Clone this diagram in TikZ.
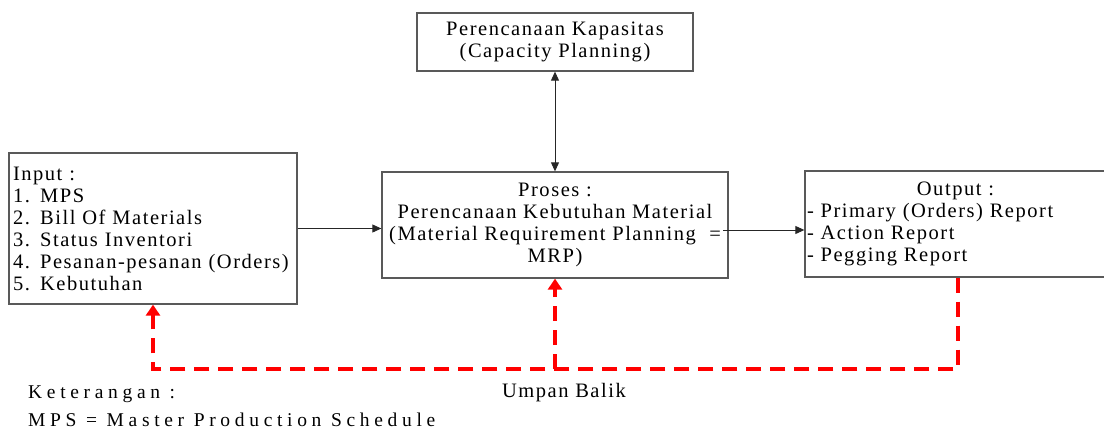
\documentclass[tikz,border=0pt]{standalone}
\usepackage{fontspec}
\setmainfont{Liberation Serif}
\newfontfamily\boxfont{Liberation Serif}[LetterSpace=7.5]
\newfontfamily\notefont{Liberation Serif}[LetterSpace=24]
\usetikzlibrary{arrows.meta}
\tikzset{
  box/.style={draw=black!65, line width=1.3pt, inner sep=0pt,
    font={\boxfont\fontsize{20.5}{22}\selectfont}},
  label/.style={inner sep=0pt},
  link/.style={draw=black!85, line width=0.9pt, -{Triangle[length=9pt,width=8pt]}},
  biarrow/.style={draw=black!85, line width=0.9pt,
    {Triangle[length=9pt,width=8pt]}-{Triangle[length=9pt,width=8pt]}},
  feedback/.style={draw=red, line width=3.2pt, dash pattern=on 15pt off 9pt,
    -{Triangle[length=11pt,width=14pt]}},
}
\begin{document}
\begin{tikzpicture}[x=1pt,y=-1pt]
\useasboundingbox (0,0) rectangle (1104,429);
\node[box, minimum width=276pt, minimum height=58pt, align=center] (cap) at (555,42)
  {Perencanaan Kapasitas\\(Capacity Planning)};
\node[box, text width=280pt, inner xsep=4pt, minimum height=151pt, align=left] (in) at (153,228.5)
  {Input :\\1. MPS\\2. Bill Of Materials\\3. Status Inventori\\4. Pesanan-pesanan (Orders)\\5. Kebutuhan};
\node[box, minimum width=346pt, minimum height=106pt, align=center] (proc) at (555,225)
  {Proses :\\Perencanaan Kebutuhan Material\\(Material Requirement Planning~~=\\MRP)};
\node[box, text width=297pt, inner xsep=2pt, minimum height=106pt, align=left] (out) at (955.5,224)
  {\makebox[297pt]{Output :}\\- Primary (Orders) Report\\- Action Report\\- Pegging Report};
\node[label, anchor=base, font={\boxfont\fontsize{20.5}{22}\selectfont}] (umpan) at (564,397) {Umpan Balik};
\node[label, anchor=base west, font={\notefont\fontsize{19.5}{22}\selectfont}] (ket) at (28,398) {Keterangan :};
\node[label, anchor=base west, font={\notefont\fontsize{19.5}{22}\selectfont}] (mps) at (28,426) {MPS = Master Production Schedule};
\draw[biarrow] (cap.south) -- (proc.north);
\draw[link] (in.east) -- (in.east -| proc.west);
\coordinate (pa) at (723,230);
\draw[link] (pa) -- (pa -| out.west);
\coordinate (fR) at (958,369);
\coordinate (fM) at (555,369);
\coordinate (fL) at (153,369);
\draw[feedback] (fR |- out.south) -- (fR) -- (fL) -- (fL |- in.south);
\draw[feedback] (fM) -- (proc.south);
\end{tikzpicture}
\end{document}
